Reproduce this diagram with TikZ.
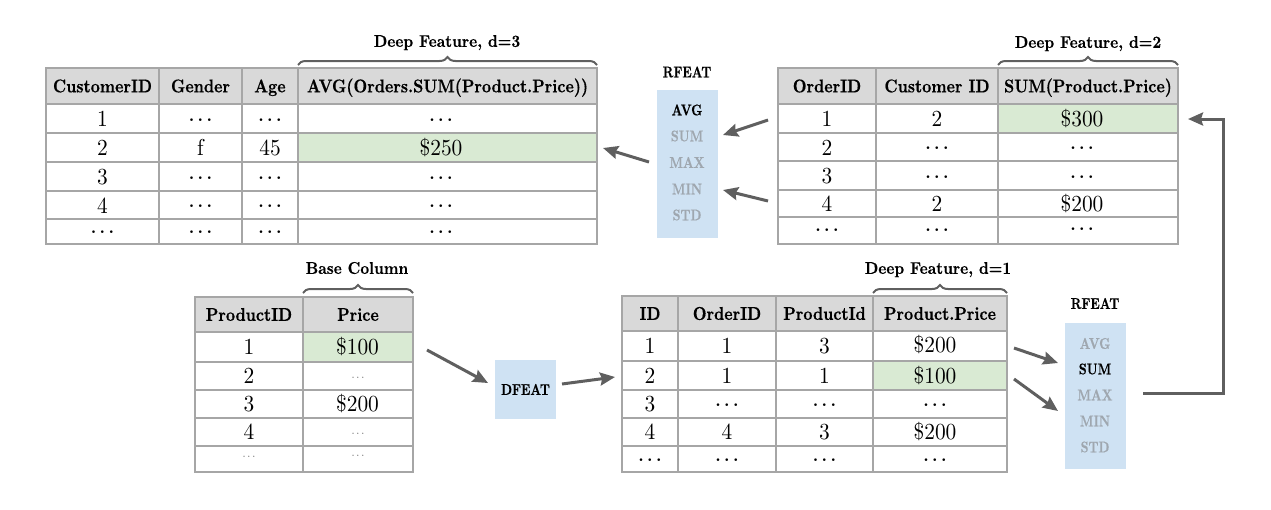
\documentclass[tikz,border=0pt]{standalone}
\usepackage{fontspec}
\usetikzlibrary{arrows.meta,decorations.pathreplacing}
\newfontfamily\hdfont[FakeStretch=0.86,FakeBold=0.4]{lmroman10-bold.otf}
\newfontfamily\lbfont[FakeStretch=0.9,FakeBold=0.4]{lmroman10-bold.otf}
\newfontfamily\rffont[FakeStretch=0.8,FakeBold=0.5]{lmroman10-bold.otf}
\newfontfamily\dtfont[FakeStretch=0.93]{lmroman10-regular.otf}
\newfontfamily\dotfont{lmroman10-regular.otf}
\definecolor{hdrgray}{HTML}{D9D9D9}
\definecolor{gridgray}{HTML}{A6A6A6}
\definecolor{hlgreen}{HTML}{D9EAD3}
\definecolor{boxblue}{HTML}{CFE2F3}
\definecolor{arrgray}{HTML}{5F5F5F}
\definecolor{dimtext}{HTML}{9FA7AF}
\newcommand\dd{$\cdots$}
\tikzset{
  hd/.style={font=\fontsize{18.5}{22}\hdfont, inner sep=0pt, text height=12.7pt, text depth=0pt},
  dt/.style={font=\fontsize{23}{27}\dtfont, inner sep=0pt, text height=14.8pt, text depth=0pt},
  ddt/.style={font=\fontsize{16}{19}\dotfont\boldmath, inner sep=0pt, text height=8pt, text depth=0pt},
  sm/.style={font=\fontsize{11}{13}\dotfont, inner sep=0pt, text height=5.5pt, text depth=0pt, text=black!70},
  lbl/.style={font=\fontsize{17}{20}\lbfont, inner sep=0pt, text height=11.7pt, text depth=0pt},
  rf/.style={font=\fontsize{15.5}{18}\rffont, inner sep=0pt, text height=10.6pt, text depth=0pt},
  rfon/.style={rf, text=black},
  rfoff/.style={rf, text=dimtext},
  bluebox/.style={fill=boxblue, draw=none, inner sep=0pt},
  gridline/.style={draw=gridgray, line width=1.5pt},
  arr/.style={draw=arrgray, line width=3pt, -{Stealth[length=15pt,width=13pt,inset=2pt]}},
  brc/.style={draw=arrgray, line width=2pt, decorate, decoration={brace, amplitude=8pt}},
}
\begin{document}
\begin{tikzpicture}[x=1pt,y=-1pt]
\useasboundingbox (0,0) rectangle (1271,509);

%% ---------- Table 1 (customers) ----------
\fill[hdrgray] (46,68) rectangle (597,104);
\fill[hlgreen] (298,133) rectangle (597,162);
\draw[gridline] (46,68) rectangle (597,244);
\foreach \x in {159,242,298} \draw[gridline] (\x,68) -- (\x,244);
\foreach \y in {104,133,162,191,219} \draw[gridline] (46,\y) -- (597,\y);
\node[hd] (c-h1) at (102.5,86) {CustomerID};
\node[hd] (c-h2) at (200.5,86) {Gender};
\node[hd] (c-h3) at (270,86) {Age};
\node[hd] (c-h4) at (447.5,86) {AVG(Orders.SUM(Product.Price))};
\node[dt] (c-1-1) at (102.5,119.5) {1};
\node[dt] (c-2-1) at (102.5,148.5) {2};
\node[dt] (c-3-1) at (102.5,177.5) {3};
\node[dt] (c-4-1) at (102.5,206) {4};
\node[ddt] (c-5-1) at (102.5,232) {\dd};
\node[ddt] (c-1-2) at (200.5,120) {\dd};
\node[dt] (c-2-2) at (200.5,148.5) {f};
\node[ddt] (c-3-2) at (200.5,178) {\dd};
\node[ddt] (c-4-2) at (200.5,206.5) {\dd};
\node[ddt] (c-5-2) at (200.5,232) {\dd};
\node[ddt] (c-1-3) at (270,120) {\dd};
\node[dt] (c-2-3) at (270,148.5) {45};
\node[ddt] (c-3-3) at (270,178) {\dd};
\node[ddt] (c-4-3) at (270,206.5) {\dd};
\node[ddt] (c-5-3) at (270,232) {\dd};
\node[ddt] (c-1-4) at (441,120) {\dd};
\node[dt] (c-2-4) at (441,148.5) {\$250};
\node[ddt] (c-3-4) at (441,178) {\dd};
\node[ddt] (c-4-4) at (441,206.5) {\dd};
\node[ddt] (c-5-4) at (441,232) {\dd};
\draw[brc] (298,65) -- (597,65);
\node[lbl] (lab3) at (447,41) {Deep Feature, d=3};

%% ---------- Table 2 (orders) ----------
\fill[hdrgray] (778,68) rectangle (1178,104);
\fill[hlgreen] (998,104) rectangle (1178,133);
\draw[gridline] (778,68) rectangle (1178,244);
\foreach \x in {876,998} \draw[gridline] (\x,68) -- (\x,244);
\foreach \y in {104,133,161,190,217} \draw[gridline] (778,\y) -- (1178,\y);
\node[hd] (o-h1) at (827,86) {OrderID};
\node[hd] (o-h2) at (937,86) {Customer ID};
\node[hd] (o-h3) at (1088,86) {SUM(Product.Price)};
\node[dt] (o-1-1) at (827,119.5) {1};
\node[dt] (o-2-1) at (827,148) {2};
\node[dt] (o-3-1) at (827,176.5) {3};
\node[dt] (o-4-1) at (827,204.5) {4};
\node[ddt] (o-5-1) at (827,230) {\dd};
\node[dt] (o-1-2) at (937,119.5) {2};
\node[ddt] (o-2-2) at (937,148.5) {\dd};
\node[ddt] (o-3-2) at (937,177) {\dd};
\node[dt] (o-4-2) at (937,204.5) {2};
\node[ddt] (o-5-2) at (937,230) {\dd};
\node[dt] (o-1-3) at (1082,119.5) {\$300};
\node[ddt] (o-2-3) at (1082,148.5) {\dd};
\node[ddt] (o-3-3) at (1082,177) {\dd};
\node[dt] (o-4-3) at (1082,204) {\$200};
\node[ddt] (o-5-3) at (1082,229) {\dd};
\draw[brc] (998,65) -- (1178,65);
\node[lbl] (lab2) at (1088,42) {Deep Feature, d=2};

%% ---------- RFEAT (top) ----------
\node[bluebox, minimum width=61pt, minimum height=148pt] (rf1) at (687.5,164) {};
\node[rf] (rf1-t) at (687,72) {RFEAT};
\node[rfon]  (rf1-avg) at (687,110) {AVG};
\node[rfoff] (rf1-sum) at (687,136) {SUM};
\node[rfoff] (rf1-max) at (687,162.5) {MAX};
\node[rfoff] (rf1-min) at (687,189) {MIN};
\node[rfoff] (rf1-std) at (687,215) {STD};

%% ---------- Table 3 (products) ----------
\fill[hdrgray] (195,297) rectangle (413,332);
\fill[hlgreen] (303,332) rectangle (413,362);
\draw[gridline] (195,297) rectangle (413,472);
\draw[gridline] (303,297) -- (303,472);
\foreach \y in {332,362,390,418,446} \draw[gridline] (195,\y) -- (413,\y);
\node[hd] (p-h1) at (249,314.5) {ProductID};
\node[hd] (p-h2) at (358,314.5) {Price};
\node[dt] (p-1-1) at (249,347.5) {1};
\node[dt] (p-1-2) at (357.5,347.5) {\$100};
\node[dt] (p-2-1) at (249,376.5) {2};
\node[sm] (p-2-2) at (358,378) {\dd};
\node[dt] (p-3-1) at (249,404.5) {3};
\node[dt] (p-3-2) at (357.5,404.5) {\$200};
\node[dt] (p-4-1) at (249,432.5) {4};
\node[sm] (p-4-2) at (358,434) {\dd};
\node[sm] (p-5-1) at (249,457) {\dd};
\node[sm] (p-5-2) at (358,456) {\dd};
\draw[brc] (303,293) -- (413,293);
\node[lbl] (lab0) at (357,268) {Base Column};

%% ---------- DFEAT ----------
\node[bluebox, minimum width=61pt, minimum height=59pt] (df) at (525.5,389.5) {};
\node[rfon] (df-t) at (525.5,389.5) {DFEAT};

%% ---------- Table 4 (order items) ----------
\fill[hdrgray] (622,296) rectangle (1007,331);
\fill[hlgreen] (873,361) rectangle (1007,390);
\draw[gridline] (622,296) rectangle (1007,472);
\foreach \x in {678,776,873} \draw[gridline] (\x,296) -- (\x,472);
\foreach \y in {331,361,390,418,446} \draw[gridline] (622,\y) -- (1007,\y);
\node[hd] (i-h1) at (650,313.5) {ID};
\node[hd] (i-h2) at (727,313.5) {OrderID};
\node[hd] (i-h3) at (824.5,313.5) {ProductId};
\node[hd] (i-h4) at (940,313.5) {Product.Price};
\node[dt] (i-1-1) at (650,346.5) {1};
\node[dt] (i-2-1) at (650,376) {2};
\node[dt] (i-3-1) at (650,404.5) {3};
\node[dt] (i-4-1) at (650,432.5) {4};
\node[ddt] (i-5-1) at (650,460) {\dd};
\node[dt] (i-1-2) at (727,346.5) {1};
\node[dt] (i-2-2) at (727,376) {1};
\node[ddt] (i-3-2) at (727,405) {\dd};
\node[dt] (i-4-2) at (727,432.5) {4};
\node[ddt] (i-5-2) at (727,460) {\dd};
\node[dt] (i-1-3) at (824.5,346.5) {3};
\node[dt] (i-2-3) at (824.5,376) {1};
\node[ddt] (i-3-3) at (824.5,405) {\dd};
\node[dt] (i-4-3) at (824.5,432.5) {3};
\node[ddt] (i-5-3) at (824.5,460) {\dd};
\node[dt] (i-1-4) at (935,345.5) {\$200};
\node[dt] (i-2-4) at (935,376) {\$100};
\node[ddt] (i-3-4) at (935,405) {\dd};
\node[dt] (i-4-4) at (935,432.5) {\$200};
\node[ddt] (i-5-4) at (935,460) {\dd};
\draw[brc] (873,293) -- (1007,293);
\node[lbl] (lab1) at (938,268) {Deep Feature, d=1};

%% ---------- RFEAT (bottom) ----------
\node[bluebox, minimum width=61pt, minimum height=146pt] (rf2) at (1095.5,396) {};
\node[rf] (rf2-t) at (1095,303.5) {RFEAT};
\node[rfoff] (rf2-avg) at (1095,343.5) {AVG};
\node[rfon]  (rf2-sum) at (1095,369) {SUM};
\node[rfoff] (rf2-max) at (1095,395) {MAX};
\node[rfoff] (rf2-min) at (1095,421) {MIN};
\node[rfoff] (rf2-std) at (1095,447) {STD};

%% ---------- connectors ----------
\coordinate (a1s) at (768,120);   \coordinate (a1e) at (723,135);
\coordinate (a2s) at (768,201);   \coordinate (a2e) at (723,190);
\coordinate (a3s) at (649,162);   \coordinate (a3e) at (603,148);
\coordinate (a4s) at (427,350);   \coordinate (a4e) at (488,383);
\coordinate (a5s) at (562,384);   \coordinate (a5e) at (615,377);
\coordinate (a6s) at (1014,348);  \coordinate (a6e) at (1058,363);
\coordinate (a7s) at (1014,379);  \coordinate (a7e) at (1058,411);
\coordinate (a8s) at (1143,393);  \coordinate (a8m) at (1223,119);  \coordinate (a8e) at (1188,119);
\draw[arr] (a1s) -- (a1e);
\draw[arr] (a2s) -- (a2e);
\draw[arr] (a3s) -- (a3e);
\draw[arr] (a4s) -- (a4e);
\draw[arr] (a5s) -- (a5e);
\draw[arr] (a6s) -- (a6e);
\draw[arr] (a7s) -- (a7e);
\draw[arr] (a8s) -| (a8m) -- (a8e);
\end{tikzpicture}
\end{document}
